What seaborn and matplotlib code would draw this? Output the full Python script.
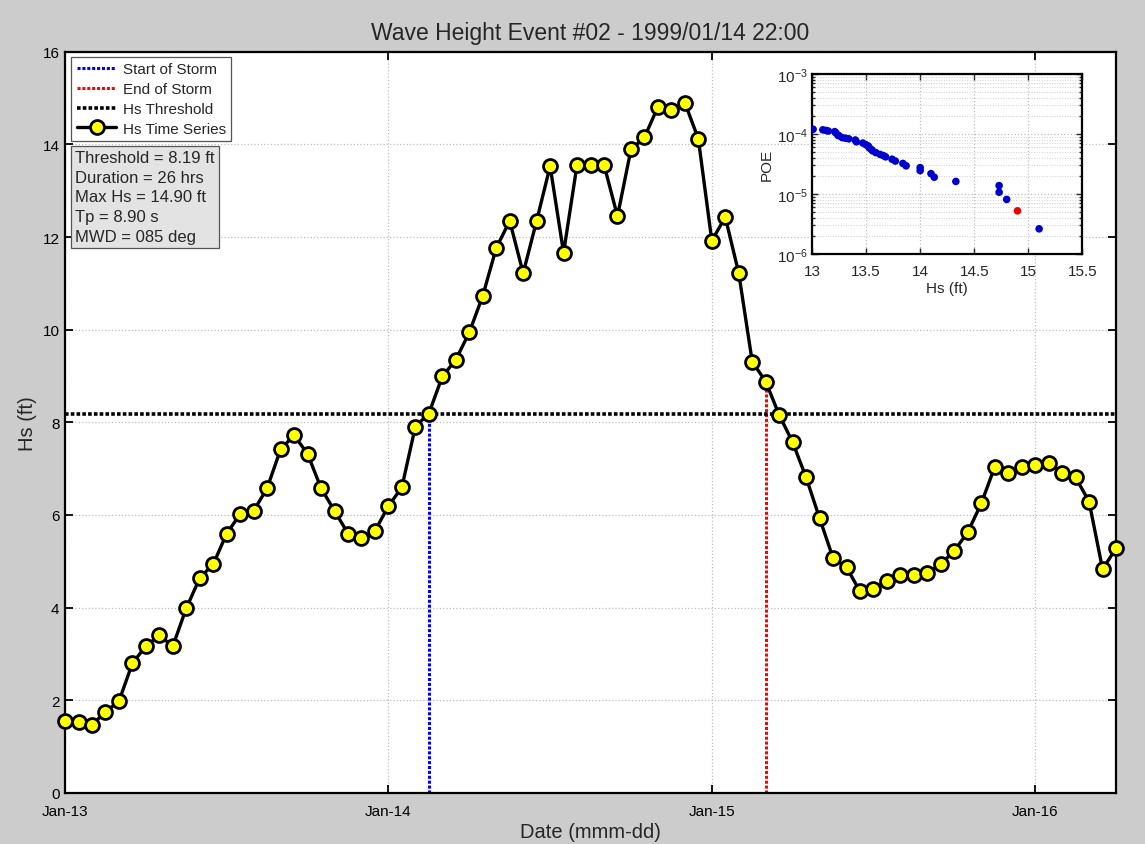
import datetime as dt

import matplotlib
matplotlib.use("Agg")
import matplotlib.dates as mdates
import matplotlib.pyplot as plt
import numpy as np
import pandas as pd
import seaborn as sns
from matplotlib.ticker import LogLocator, NullFormatter

# ---------------------------------------------------------------- data
start_time = dt.datetime(1999, 1, 13, 0, 0)
hours = list(range(79))  # hourly record from 1999-01-13 00:00
hs_ft = [
    1.56, 1.53, 1.47, 1.75, 1.98, 2.80, 3.17, 3.40, 3.17, 3.99,
    4.64, 4.94, 5.60, 6.02, 6.09, 6.58, 7.42, 7.72, 7.32, 6.58,
    6.09, 5.60, 5.50, 5.66, 6.19, 6.60, 7.91, 8.19, 8.99, 9.35,
    9.94, 10.73, 11.76, 12.35, 11.22, 12.35, 13.53, 11.66, 13.56, 13.56,
    13.56, 12.45, 13.89, 14.15, 14.81, 14.74, 14.90, 14.12, 11.92, 12.43,
    11.22, 9.31, 8.88, 8.16, 7.57, 6.81, 5.93, 5.07, 4.87, 4.35,
    4.40, 4.58, 4.71, 4.71, 4.75, 4.94, 5.23, 5.63, 6.25, 7.04,
    6.91, 7.04, 7.08, 7.12, 6.91, 6.81, 6.29, 4.83, 5.28,
]
threshold_ft = 8.19
storm_start_hour = 27
storm_end_hour = 52

summary_lines = [
    "Threshold = 8.19 ft",
    "Duration = 26 hrs",
    "Max Hs = 14.90 ft",
    "Tp = 8.90 s",
    "MWD = 085 deg",
]

# probability of exceedance of storm peaks
poe_hs = [
    13.01, 13.10, 13.13, 13.15, 13.21, 13.22, 13.24, 13.25, 13.28, 13.31,
    13.34, 13.40, 13.41, 13.47, 13.50, 13.52, 13.53, 13.55, 13.56, 13.59,
    13.63, 13.66, 13.68, 13.74, 13.77, 13.84, 13.87, 14.00, 14.00, 14.10,
    14.13, 14.33, 14.73, 14.73, 14.80, 15.10,
]
poe_log10 = [
    -3.92, -3.93, -3.94, -3.95, -3.96, -3.98, -4.02, -4.03, -4.06, -4.07,
    -4.08, -4.10, -4.13, -4.15, -4.18, -4.20, -4.23, -4.26, -4.28, -4.31,
    -4.34, -4.36, -4.38, -4.42, -4.45, -4.49, -4.53, -4.56, -4.61, -4.66,
    -4.72, -4.79, -4.86, -4.97, -5.09, -5.58,
]
event_hs = 14.90
event_poe_log10 = -5.28

# ---------------------------------------------------------------- style
sns.set_theme(style="ticks")
plt.rcParams["font.family"] = ["Liberation Sans", "DejaVu Sans"]
plt.rcParams["xtick.direction"] = "in"
plt.rcParams["ytick.direction"] = "in"

bg = "#cccccc"
grid_kw = dict(color="#bdbdbd", linestyle=":", linewidth=0.9)

times = [start_time + dt.timedelta(hours=h) for h in hours]
series = pd.DataFrame({"time": times, "hs": hs_ft})

fig = plt.figure(figsize=(11.45, 8.45), dpi=100, facecolor=bg)
ax = fig.add_axes([0.0568, 0.0604, 0.9179, 0.8772])
ax.set_facecolor("white")

# storm markers and threshold
t_start = start_time + dt.timedelta(hours=storm_start_hour)
t_end = start_time + dt.timedelta(hours=storm_end_hour)
ax.plot([t_start, t_start], [0, hs_ft[storm_start_hour]], color="#0000ff",
        linestyle=(0, (1, 0.6)), linewidth=2.2, label="Start of Storm", zorder=2)
ax.plot([t_end, t_end], [0, hs_ft[storm_end_hour]], color="#ff0000",
        linestyle=(0, (1, 0.6)), linewidth=2.2, label="End of Storm", zorder=2)
ax.axhline(threshold_ft, color="black", linestyle=(0, (1, 0.6)), linewidth=2.6,
           label="Hs Threshold", zorder=2)

sns.lineplot(data=series, x="time", y="hs", ax=ax, color="black", linewidth=2.4,
             marker="o", markersize=10, markerfacecolor="#ffff00",
             markeredgecolor="black", markeredgewidth=2.0,
             label="Hs Time Series", zorder=3, clip_on=False)

ax.set_xlim(start_time, start_time + dt.timedelta(hours=78))
ax.set_ylim(0, 16)
ax.set_yticks(np.arange(0, 17, 2))
ax.xaxis.set_major_locator(mdates.DayLocator())
ax.xaxis.set_major_formatter(mdates.DateFormatter("%b-%d"))
ax.grid(True, **grid_kw)
ax.set_axisbelow(True)
ax.tick_params(axis="both", which="major", labelsize=11, length=6, width=1.3,
               top=True, right=True, colors="black")
ax.tick_params(axis="x", pad=8)
ax.tick_params(axis="y", pad=4)
for sp in ax.spines.values():
    sp.set_linewidth(1.6)
    sp.set_color("black")
    sp.set_visible(True)

ax.set_xlabel("Date (mmm-dd)", fontsize=14.5, labelpad=3)
ax.set_ylabel("Hs (ft)", fontsize=14.5, labelpad=4)
ax.set_title("Wave Height Event #02 - 1999/01/14 22:00", fontsize=16.5, pad=9)

handles, labels = ax.get_legend_handles_labels()
leg = ax.legend(handles, labels, loc="upper left", bbox_to_anchor=(0.006, 0.993),
                fontsize=11, frameon=True, fancybox=False, framealpha=1,
                edgecolor="#555555", handlelength=2.6, handletextpad=0.4,
                borderpad=0.35, labelspacing=0.38, borderaxespad=0.0)
leg.get_frame().set_linewidth(0.9)

ax.text(0.0095, 0.867, "\n".join(summary_lines), transform=ax.transAxes,
        ha="left", va="top", fontsize=12, linespacing=1.38,
        bbox=dict(boxstyle="square,pad=0.25", facecolor="#e3e3e3",
                  edgecolor="#555555", linewidth=0.9), zorder=5)

# ---------------------------------------------------------------- inset
ins = fig.add_axes([0.7092, 0.6982, 0.2361, 0.2130])
ins.set_facecolor("white")
poe_df = pd.DataFrame({"hs": poe_hs, "poe": np.power(10.0, poe_log10)})
sns.scatterplot(data=poe_df, x="hs", y="poe", ax=ins, color="#0000cc",
                s=30, edgecolor="none", zorder=3)
sns.scatterplot(x=[event_hs], y=[10.0 ** event_poe_log10], ax=ins,
                color="#ee0000", s=30, edgecolor="none", zorder=4)
ins.set_yscale("log")
ins.set_xlim(13, 15.5)
ins.set_ylim(1e-6, 1e-3)
ins.set_xticks(np.arange(13, 15.51, 0.5))
ins.set_xticklabels(["13", "13.5", "14", "14.5", "15", "15.5"])
ins.yaxis.set_major_locator(LogLocator(base=10, numticks=10))
ins.yaxis.set_minor_locator(LogLocator(base=10, subs=np.arange(2, 10), numticks=20))
ins.yaxis.set_minor_formatter(NullFormatter())
ins.grid(True, which="major", **grid_kw)
ins.grid(True, which="minor", axis="y", color="#cfcfcf", linestyle=":", linewidth=0.7)
ins.set_axisbelow(True)
ins.tick_params(axis="both", which="major", labelsize=11, length=4, width=1.0,
                top=True, right=True)
ins.tick_params(axis="x", pad=7)
ins.tick_params(axis="y", pad=3)
ins.tick_params(axis="y", which="minor", length=2, right=True)
for sp in ins.spines.values():
    sp.set_linewidth(1.6)
    sp.set_color("black")
    sp.set_visible(True)
ins.set_xlabel("Hs (ft)", fontsize=11, labelpad=2)
ins.set_ylabel("POE", fontsize=11, labelpad=2)

fig.savefig("out.png", dpi=100, facecolor=bg)
